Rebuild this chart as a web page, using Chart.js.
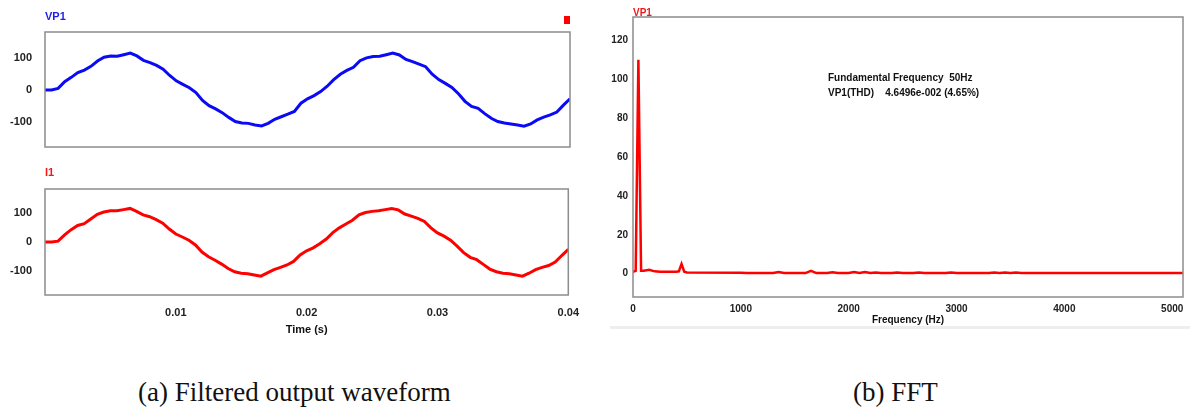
<!DOCTYPE html>
<html>
<head>
<meta charset="utf-8">
<script src="https://cdn.jsdelivr.net/npm/chart.js@4.4.0/dist/chart.umd.min.js"></script>
<style>
body { margin: 0; background: #fff; width: 1190px; height: 407px; position: relative; overflow: hidden; }
canvas { position: absolute; }
.cap { position: absolute; font-family: "Liberation Serif", "Times New Roman", serif; font-size: 27px; line-height: 26px; color: #111; white-space: nowrap; }
</style>
</head>
<body>
<div style="position:absolute;left:610px;top:326px;width:580px;height:3px;background:#eee"></div>
<canvas id="vp1" width="590" height="160" style="left:0;top:0"></canvas>
<canvas id="i1" width="590" height="180" style="left:0;top:160px"></canvas>
<canvas id="fft" width="590" height="340" style="left:600px;top:0"></canvas>
<div class="cap" style="left:138px;top:379px">(a) Filtered output waveform</div>
<div class="cap" style="left:853px;top:379px">(b) FFT</div>
<script>
// time samples (s)
var time = [0, 0.0005, 0.001, 0.0015, 0.002, 0.0025, 0.003, 0.0035, 0.004, 0.0045,
  0.005, 0.0055, 0.006, 0.0065, 0.007, 0.0075, 0.008, 0.0085, 0.009, 0.0095,
  0.01, 0.0105, 0.011, 0.0115, 0.012, 0.0125, 0.013, 0.0135, 0.014, 0.0145,
  0.015, 0.0155, 0.016, 0.0165, 0.017, 0.0175, 0.018, 0.0185, 0.019, 0.0195,
  0.02, 0.0205, 0.021, 0.0215, 0.022, 0.0225, 0.023, 0.0235, 0.024, 0.0245,
  0.025, 0.0255, 0.026, 0.0265, 0.027, 0.0275, 0.028, 0.0285, 0.029, 0.0295,
  0.03, 0.0305, 0.031, 0.0315, 0.032, 0.0325, 0.033, 0.0335, 0.034, 0.0345,
  0.035, 0.0355, 0.036, 0.0365, 0.037, 0.0375, 0.038, 0.0385, 0.039, 0.0395, 0.04];

var vp1 = [0, 0, 5, 26, 40, 55, 63, 75, 92, 104,
  108, 107, 112, 117, 108, 94, 87, 78, 66, 46,
  29, 18, 7, -8, -33, -50, -60, -72, -87, -100,
  -105, -106, -111, -114, -106, -93, -85, -77, -68, -42,
  -28, -18, -5, 12, 33, 50, 62, 72, 93, 102,
  106, 107, 112, 117, 111, 97, 90, 82, 74, 50,
  33, 21, 8, -12, -36, -52, -58, -75, -90, -100,
  -105, -108, -111, -115, -108, -95, -86, -79, -70, -48, -28];

var i1 = [0, 0, 3, 24, 42, 56, 62, 78, 94, 102,
  106, 106, 110, 114, 104, 92, 86, 76, 64, 44,
  27, 17, 6, -10, -34, -50, -62, -75, -90, -101,
  -106, -108, -112, -116, -105, -94, -86, -78, -66, -44,
  -30, -20, -6, 10, 32, 48, 61, 74, 92, 100,
  104, 106, 110, 114, 109, 95, 88, 80, 70, 48,
  31, 20, 6, -14, -36, -52, -60, -76, -92, -101,
  -106, -108, -112, -116, -106, -94, -86, -80, -68, -46, -25];

// spectrum of VP1
var freq = [0, 25, 50, 75, 100, 150, 200, 250, 400, 425, 450, 475, 500, 1000, 1050,
  1300, 1350, 1400, 1600, 1650, 1700, 1800, 1850, 1900, 2000, 2050, 2100, 2150, 2200,
  2250, 2300, 2400, 2450, 2500, 2600, 2650, 2700, 2900, 2950, 3000, 3300, 3350, 3400,
  3450, 3500, 3550, 3600, 5100];
var mag = [1, 1.5, 110, 1.5, 1.5, 2, 1.2, 1, 1, 1.2, 5, 1, 0.6, 0.5, 0.3,
  0.3, 0.9, 0.3, 0.3, 1.5, 0.3, 0.3, 0.7, 0.3, 0.3, 0.9, 0.3, 0.9, 0.3,
  0.6, 0.3, 0.3, 0.6, 0.3, 0.3, 0.6, 0.3, 0.3, 0.6, 0.3, 0.3, 0.6, 0.3,
  0.6, 0.3, 0.6, 0.3, 0.3];

var waveTicks = [-100, 0, 100];
var timeTicks = [0.01, 0.02, 0.03, 0.04];
var magTicks = [0, 20, 40, 60, 80, 100, 120];
var freqTicks = [0, 1000, 2000, 3000, 4000, 5000];

var tickFont = { family: "Liberation Sans, Arial, sans-serif", size: 11, weight: "bold" };
var smallFont = { family: "Liberation Sans, Arial, sans-serif", size: 10, weight: "bold" };

function pts(xs, ys) {
  return xs.map(function (x, i) { return { x: x, y: ys[i] }; });
}
function fixTicks(list) {
  return function (s) { s.ticks = list.map(function (v) { return { value: v }; }); };
}
// fixed axis width, no extra room for the end labels
function fixWidth(w) {
  return function (s) { s.width = w; s.paddingTop = 0; s.paddingBottom = 0; };
}

// frame, labels and notes drawn on top of each panel
var deco = {
  id: "deco",
  afterDraw: function (chart, args, o) {
    var ctx = chart.ctx, a = chart.chartArea;
    ctx.save();
    ctx.font = "bold " + (o.size || 11) + "px Liberation Sans, Arial, sans-serif";
    ctx.textBaseline = "middle";
    ctx.fillStyle = o.color;
    ctx.textAlign = "left";
    ctx.fillText(o.title, a.left, o.titleY);
    ctx.strokeStyle = "#8c8c8c";
    ctx.lineWidth = 1.5;
    ctx.strokeRect(a.left, a.top, a.right - a.left, a.bottom - a.top);
    if (o.marker) {
      ctx.fillStyle = "#ff0000";
      ctx.fillRect(a.right - 6, 16, 6, 8);
    }
    ctx.fillStyle = "#111";
    if (o.xTitle) {
      ctx.textAlign = "center";
      ctx.fillText(o.xTitle, (a.left + a.right) / 2, o.xTitleY);
    }
    if (o.notes) {
      ctx.font = "bold 10px Liberation Sans, Arial, sans-serif";
      ctx.textAlign = "left";
      o.notes.forEach(function (n, i) {
        ctx.fillText(n, a.left + 195, 78 + i * 15);
      });
    }
    ctx.restore();
  }
};

function waveChart(id, values, color, opts) {
  return new Chart(document.getElementById(id), {
    type: "line",
    data: { datasets: [{ data: pts(time, values), borderColor: color, borderWidth: 3, pointRadius: 0, tension: 0 }] },
    options: {
      responsive: false,
      animation: false,
      layout: { padding: opts.padding },
      plugins: { legend: { display: false }, tooltip: { enabled: false }, deco: opts.deco },
      scales: {
        x: {
          type: "linear", min: 0, max: 0.04, display: opts.showX,
          grid: { display: false, drawTicks: false },
          border: { display: false },
          afterBuildTicks: fixTicks(timeTicks),
          afterFit: function (s) { s.height = opts.showX ? 45 : 0; },
          ticks: { font: tickFont, color: "#222", padding: 11, maxRotation: 0, callback: function (v) { return v.toFixed(2); } }
        },
        y: {
          min: opts.min, max: opts.max,
          grid: { display: false, drawTicks: false },
          border: { display: false },
          afterBuildTicks: fixTicks(waveTicks),
          afterFit: fixWidth(45),
          ticks: { font: tickFont, color: "#222", padding: 13 }
        }
      }
    },
    plugins: [deco]
  });
}

waveChart("vp1", vp1, "#0a0af5", {
  padding: { top: 32, right: 20, bottom: 13, left: 0 }, showX: false, min: -181, max: 184,
  deco: { title: "VP1", color: "#1e1ee6", titleY: 17, marker: true }
});
waveChart("i1", i1, "#ff0000", {
  padding: { top: 29, right: 20, bottom: 0, left: 0 }, showX: true, min: -180, max: 180,
  deco: { title: "I1", color: "#f01818", titleY: 13, xTitle: "Time (s)", xTitleY: 170 }
});

new Chart(document.getElementById("fft"), {
  type: "line",
  data: { datasets: [{ data: pts(freq, mag), borderColor: "#ff0000", borderWidth: 2.5, pointRadius: 0, tension: 0 }] },
  options: {
    responsive: false,
    animation: false,
    layout: { padding: { top: 17, right: 7, bottom: 0, left: 0 } },
    plugins: {
      legend: { display: false }, tooltip: { enabled: false },
      deco: {
        title: "VP1", color: "#f01818", titleY: 13, xTitle: "Frequency (Hz)", xTitleY: 320, size: 10,
        notes: ["Fundamental Frequency  50Hz", "VP1(THD)    4.6496e-002 (4.65%)"]
      }
    },
    scales: {
      x: {
        type: "linear", min: 0, max: 5100,
        grid: { display: false, drawTicks: false },
        border: { display: false },
        afterBuildTicks: fixTicks(freqTicks),
        afterFit: function (s) { s.height = 43; },
        ticks: { font: smallFont, color: "#222", padding: 6, maxRotation: 0, callback: function (v) { return String(v); } }
      },
      y: {
        min: -12, max: 132,
        grid: { display: false, drawTicks: false },
        border: { display: false },
        afterBuildTicks: fixTicks(magTicks),
        afterFit: fixWidth(33),
        ticks: { font: smallFont, color: "#222", padding: 5 }
      }
    }
  },
  plugins: [deco]
});
</script>
</body>
</html>
